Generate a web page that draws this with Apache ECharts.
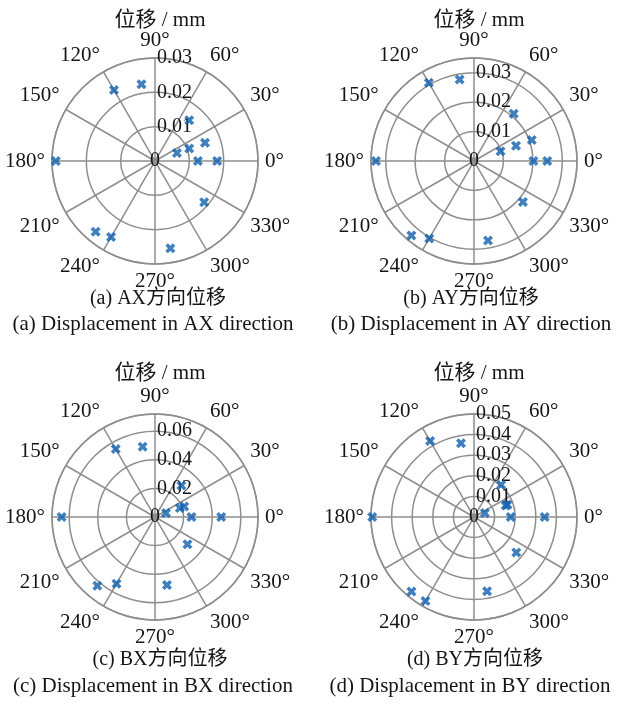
<!DOCTYPE html>
<html>
<head>
<meta charset="utf-8">
<script src="https://cdn.jsdelivr.net/npm/echarts@6/dist/echarts.min.js"></script>
<style>
html,body{margin:0;padding:0;background:#fff;}
#chart{width:617px;height:714px;}
</style>
</head>
<body>
<div id="chart"></div>
<script>
// Angles (degrees) shared by all four panels
const angles = [0, 0, 20, 20, 20, 50, 100, 120, 180, 230, 240, 280, 320];
// Displacement magnitudes (mm)
const radiusAX = [0.0125, 0.0181, 0.0068, 0.0106, 0.0155, 0.0155, 0.0227, 0.0239, 0.0289, 0.0269, 0.0256, 0.0258, 0.0187];
const radiusAY = [0.0202, 0.0249, 0.0096, 0.0152, 0.0209, 0.0210, 0.0281, 0.0307, 0.0333, 0.0331, 0.0304, 0.0274, 0.0217];
const radiusBX = [0.0255, 0.0463, 0.0082, 0.0185, 0.0217, 0.0287, 0.0498, 0.0549, 0.0653, 0.0627, 0.0538, 0.0483, 0.0296];
const radiusBY = [0.0178, 0.0343, 0.0056, 0.0164, 0.0173, 0.0205, 0.0363, 0.0426, 0.0494, 0.0472, 0.0471, 0.0366, 0.0268];
// Radial axis limits and ring spacing
const radialMax = [0.03, 0.035, 0.072, 0.05];
const radialStep = [0.01, 0.01, 0.02, 0.01];
// Texts
const axisTitle = '位移 / mm';
const captionsCN = ['(a) AX方向位移', '(b) AY方向位移', '(c) BX方向位移', '(d) BY方向位移'];
const captionsEN = ['(a) Displacement in AX direction', '(b) Displacement in AY direction', '(c) Displacement in BX direction', '(d) Displacement in BY direction'];

const seriesRadii = [radiusAX, radiusAY, radiusBX, radiusBY];
const centers = [[155, 161], [474, 161], [155, 517], [474, 517]];
const capX = [[153, 148], [466, 466], [155, 148], [470, 465]];
const capY = [[284, 309], [284, 309], [645, 671], [645, 671]];
const titleY = [5, 5, 358, 358];
const R = 103;
const FONT = '"Liberation Serif", "DejaVu Serif", "Noto Sans CJK SC", serif';
const GRID = '#8e8e8e';
const TXT = '#151515';
const BLUE = '#0f5fae';
const XSYM = 'path://M0,2.5 L2.5,0 L5,2.5 L7.5,0 L10,2.5 L7.5,5 L10,7.5 L7.5,10 L5,7.5 L2.5,10 L0,7.5 L2.5,5 Z';

const polar = [], angleAxis = [], radiusAxis = [], series = [], title = [];
for (let i = 0; i < 8; i++) {
  polar.push({ center: centers[i % 4], radius: R });
}
for (let i = 0; i < 4; i++) {
  angleAxis.push({
    polarIndex: i, type: 'value', min: 0, max: 360, interval: 30,
    startAngle: 0, clockwise: false,
    axisLine: { show: true, lineStyle: { color: GRID, width: 1.5 } },
    axisTick: { show: false },
    splitLine: { show: true, lineStyle: { color: GRID, width: 1.5 } },
    axisLabel: {
      show: true, margin: 7, color: TXT, fontFamily: FONT, fontSize: 21,
      formatter: v => (v === 360 ? '' : v + '°')
    }
  });
  // data radius axis: rings + the centred "0" label
  radiusAxis.push({
    polarIndex: i, type: 'value', min: 0, max: radialMax[i], interval: radialStep[i],
    axisLine: { show: false }, axisTick: { show: false },
    axisLabel: {
      show: true, color: TXT, fontFamily: FONT, fontSize: 20,
      align: 'center', verticalAlign: 'middle', margin: 0,
      formatter: v => (v === 0 ? '0' : '')
    },
    splitLine: { show: true, lineStyle: { color: GRID, width: 1.5 } }
  });
  const data = angles.map((a, k) => [seriesRadii[i][k], a]);
  series.push({
    type: 'scatter', coordinateSystem: 'polar', polarIndex: i,
    symbol: XSYM, symbolSize: 10, itemStyle: { color: BLUE },
    data: data, silent: true, z: 5
  });
}
for (let i = 0; i < 4; i++) {
  const step = radialStep[i];
  angleAxis.push({ polarIndex: 4 + i, type: 'value', min: 0, max: 360, startAngle: 90, show: false });
  radiusAxis.push({
    polarIndex: 4 + i, type: 'value', min: 0, max: radialMax[i], interval: step,
    axisLine: { show: false }, axisTick: { show: false }, splitLine: { show: false },
    axisLabel: {
      show: true, showMinLabel: false, color: TXT, fontFamily: FONT, fontSize: 20,
      align: 'left', verticalAlign: 'middle', margin: -2, padding: [10, 0, 0, 0],
      formatter: v => {
        if (v === 0) return '';
        const k = v / step;
        if (Math.abs(k - Math.round(k)) > 1e-6) return '';
        return String(+v.toFixed(2));
      }
    }
  });
}
for (let i = 0; i < 4; i++) {
  title.push({
    text: axisTitle, left: centers[i][0], top: titleY[i], textAlign: 'center',
    textStyle: { fontFamily: FONT, fontSize: 21, fontWeight: 'normal', color: TXT }
  });
  title.push({
    text: captionsCN[i], left: capX[i][0], top: capY[i][0], textAlign: 'center',
    textStyle: { fontFamily: FONT, fontSize: 20, fontWeight: 'normal', color: TXT }
  });
  title.push({
    text: captionsEN[i], left: capX[i][1], top: capY[i][1], textAlign: 'center',
    textStyle: { fontFamily: FONT, fontSize: 21, fontWeight: 'normal', color: TXT }
  });
}

const chart = echarts.init(document.getElementById('chart'), null, { renderer: 'canvas' });
chart.setOption({
  animation: false,
  backgroundColor: '#fff',
  title, polar, angleAxis, radiusAxis, series
});
</script>
</body>
</html>
